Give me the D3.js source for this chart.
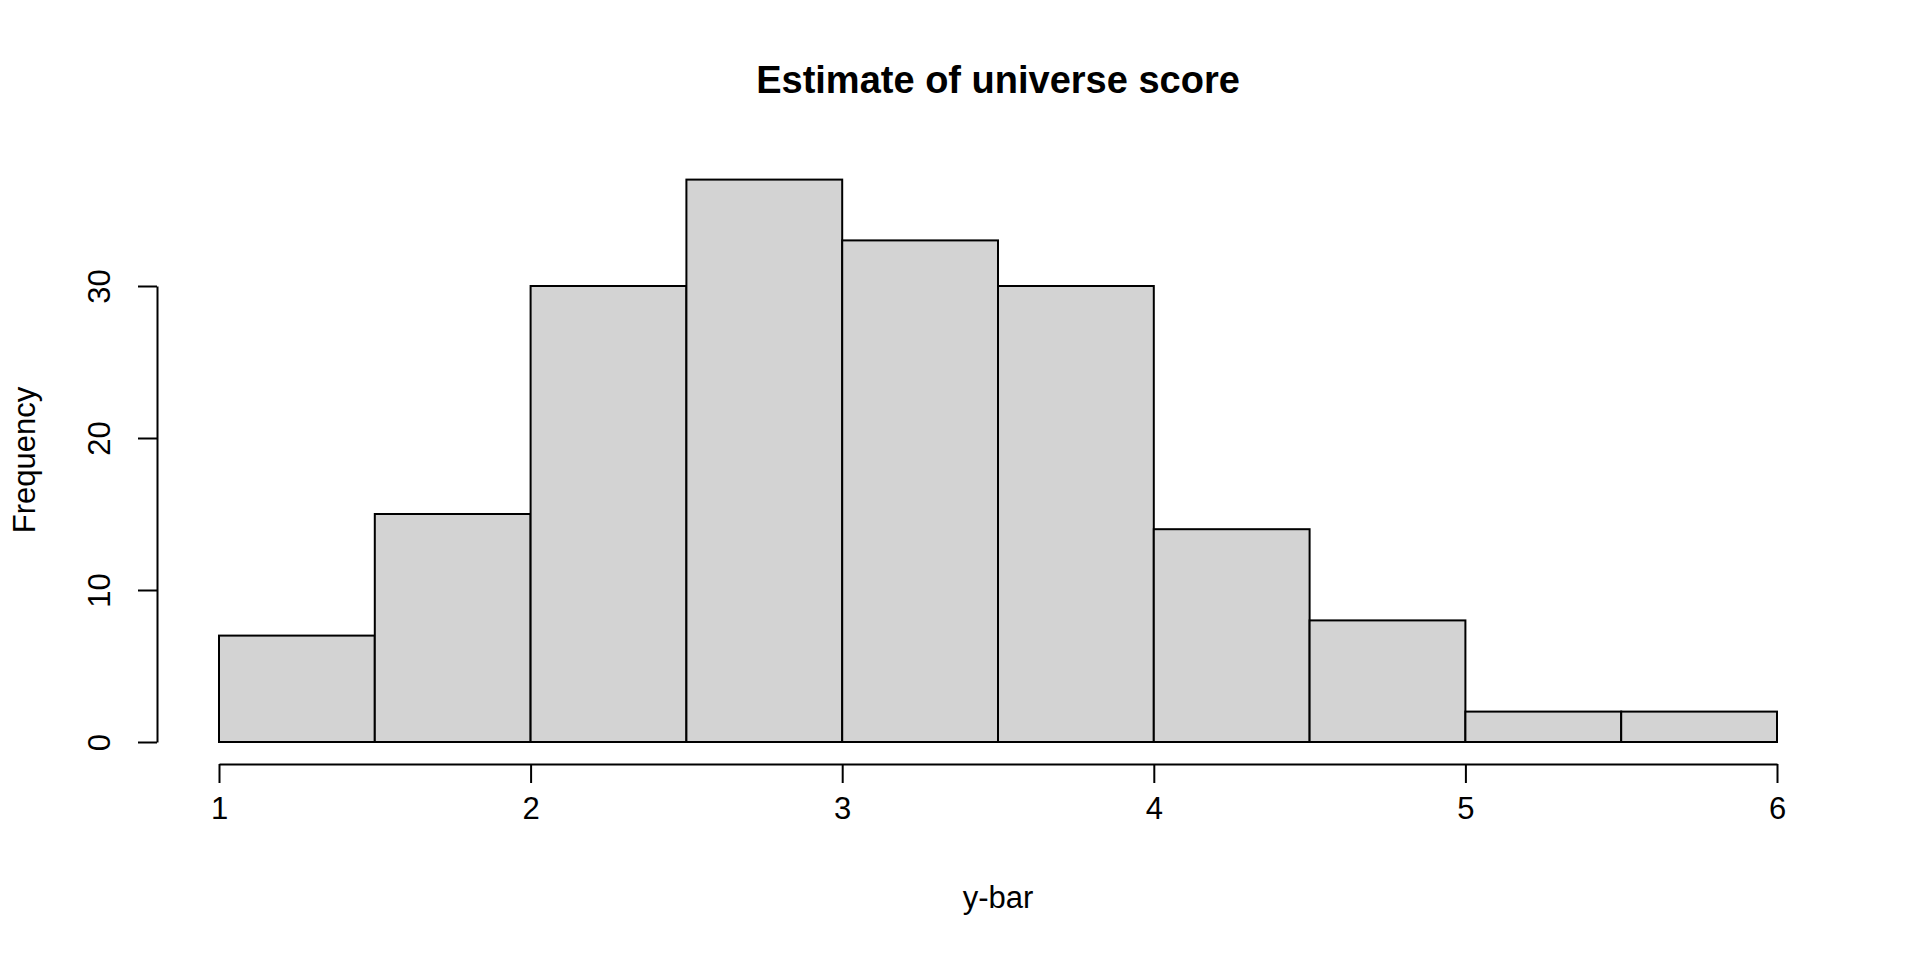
<!DOCTYPE html>
<html><head><meta charset="utf-8">
<script src="https://cdn.jsdelivr.net/npm/d3@7"></script>
<style>body{margin:0;background:#fff}svg{display:block}text{font-family:"Liberation Sans",Arial,sans-serif}</style>
</head><body>
<script>
const binStarts = [1, 1.5, 2, 2.5, 3, 3.5, 4, 4.5, 5, 5.5];
const binWidth = 0.5;
const counts = [7, 15, 30, 37, 33, 30, 14, 8, 2, 2];
const xTicks = [1, 2, 3, 4, 5, 6];
const yTicks = [0, 10, 20, 30];
const title = "Estimate of universe score";
const xLabel = "y-bar";
const yLabel = "Frequency";

const W = 1920, H = 960;
const svg = d3.select("body").append("svg").attr("width", W).attr("height", H);
const x = d3.scaleLinear().domain([1, 6]).range([219, 1777]);
const y = d3.scaleLinear().domain([0, 30]).range([742, 286]);

svg.append("g").selectAll("rect").data(counts).join("rect")
  .attr("x", (d, i) => x(binStarts[i]))
  .attr("width", (d, i) => x(binStarts[i] + binWidth) - x(binStarts[i]))
  .attr("y", d => y(d))
  .attr("height", d => y(0) - y(d))
  .attr("fill", "#d3d3d3").attr("stroke", "#000").attr("stroke-width", 2);

// x axis
const xa = svg.append("g").attr("transform", "translate(0,764)")
  .call(d3.axisBottom(x).tickValues(xTicks).tickFormat(d3.format("d")).tickSize(19).tickPadding(14).tickSizeOuter(0));
xa.select(".domain").attr("stroke-width", 2);
xa.selectAll(".tick line").attr("stroke-width", 2);
xa.selectAll("text").attr("font-size", 31).attr("fill", "#000").attr("font-family", "Liberation Sans, Arial, sans-serif");

// y axis
const ya = svg.append("g").attr("transform", "translate(157,0)")
  .call(d3.axisLeft(y).tickValues(yTicks).tickSize(19).tickSizeOuter(0).tickFormat(d3.format("d")));
ya.select(".domain").attr("stroke-width", 2);
ya.selectAll(".tick line").attr("stroke-width", 2);
ya.selectAll("text").remove();
ya.selectAll(".tick").append("text")
  .attr("transform", "translate(-47,0) rotate(-90)")
  .attr("text-anchor", "middle").attr("font-size", 31).attr("fill", "#000")
  .text(d => d);

svg.append("text").attr("x", 998).attr("y", 93).attr("text-anchor", "middle")
  .attr("font-size", 38).attr("font-weight", "bold").text(title);
svg.append("text").attr("x", 998).attr("y", 908).attr("text-anchor", "middle")
  .attr("font-size", 31).text(xLabel);
svg.append("text").attr("transform", "translate(35,460) rotate(-90)").attr("text-anchor", "middle")
  .attr("font-size", 31).text(yLabel);
</script>
</body></html>
